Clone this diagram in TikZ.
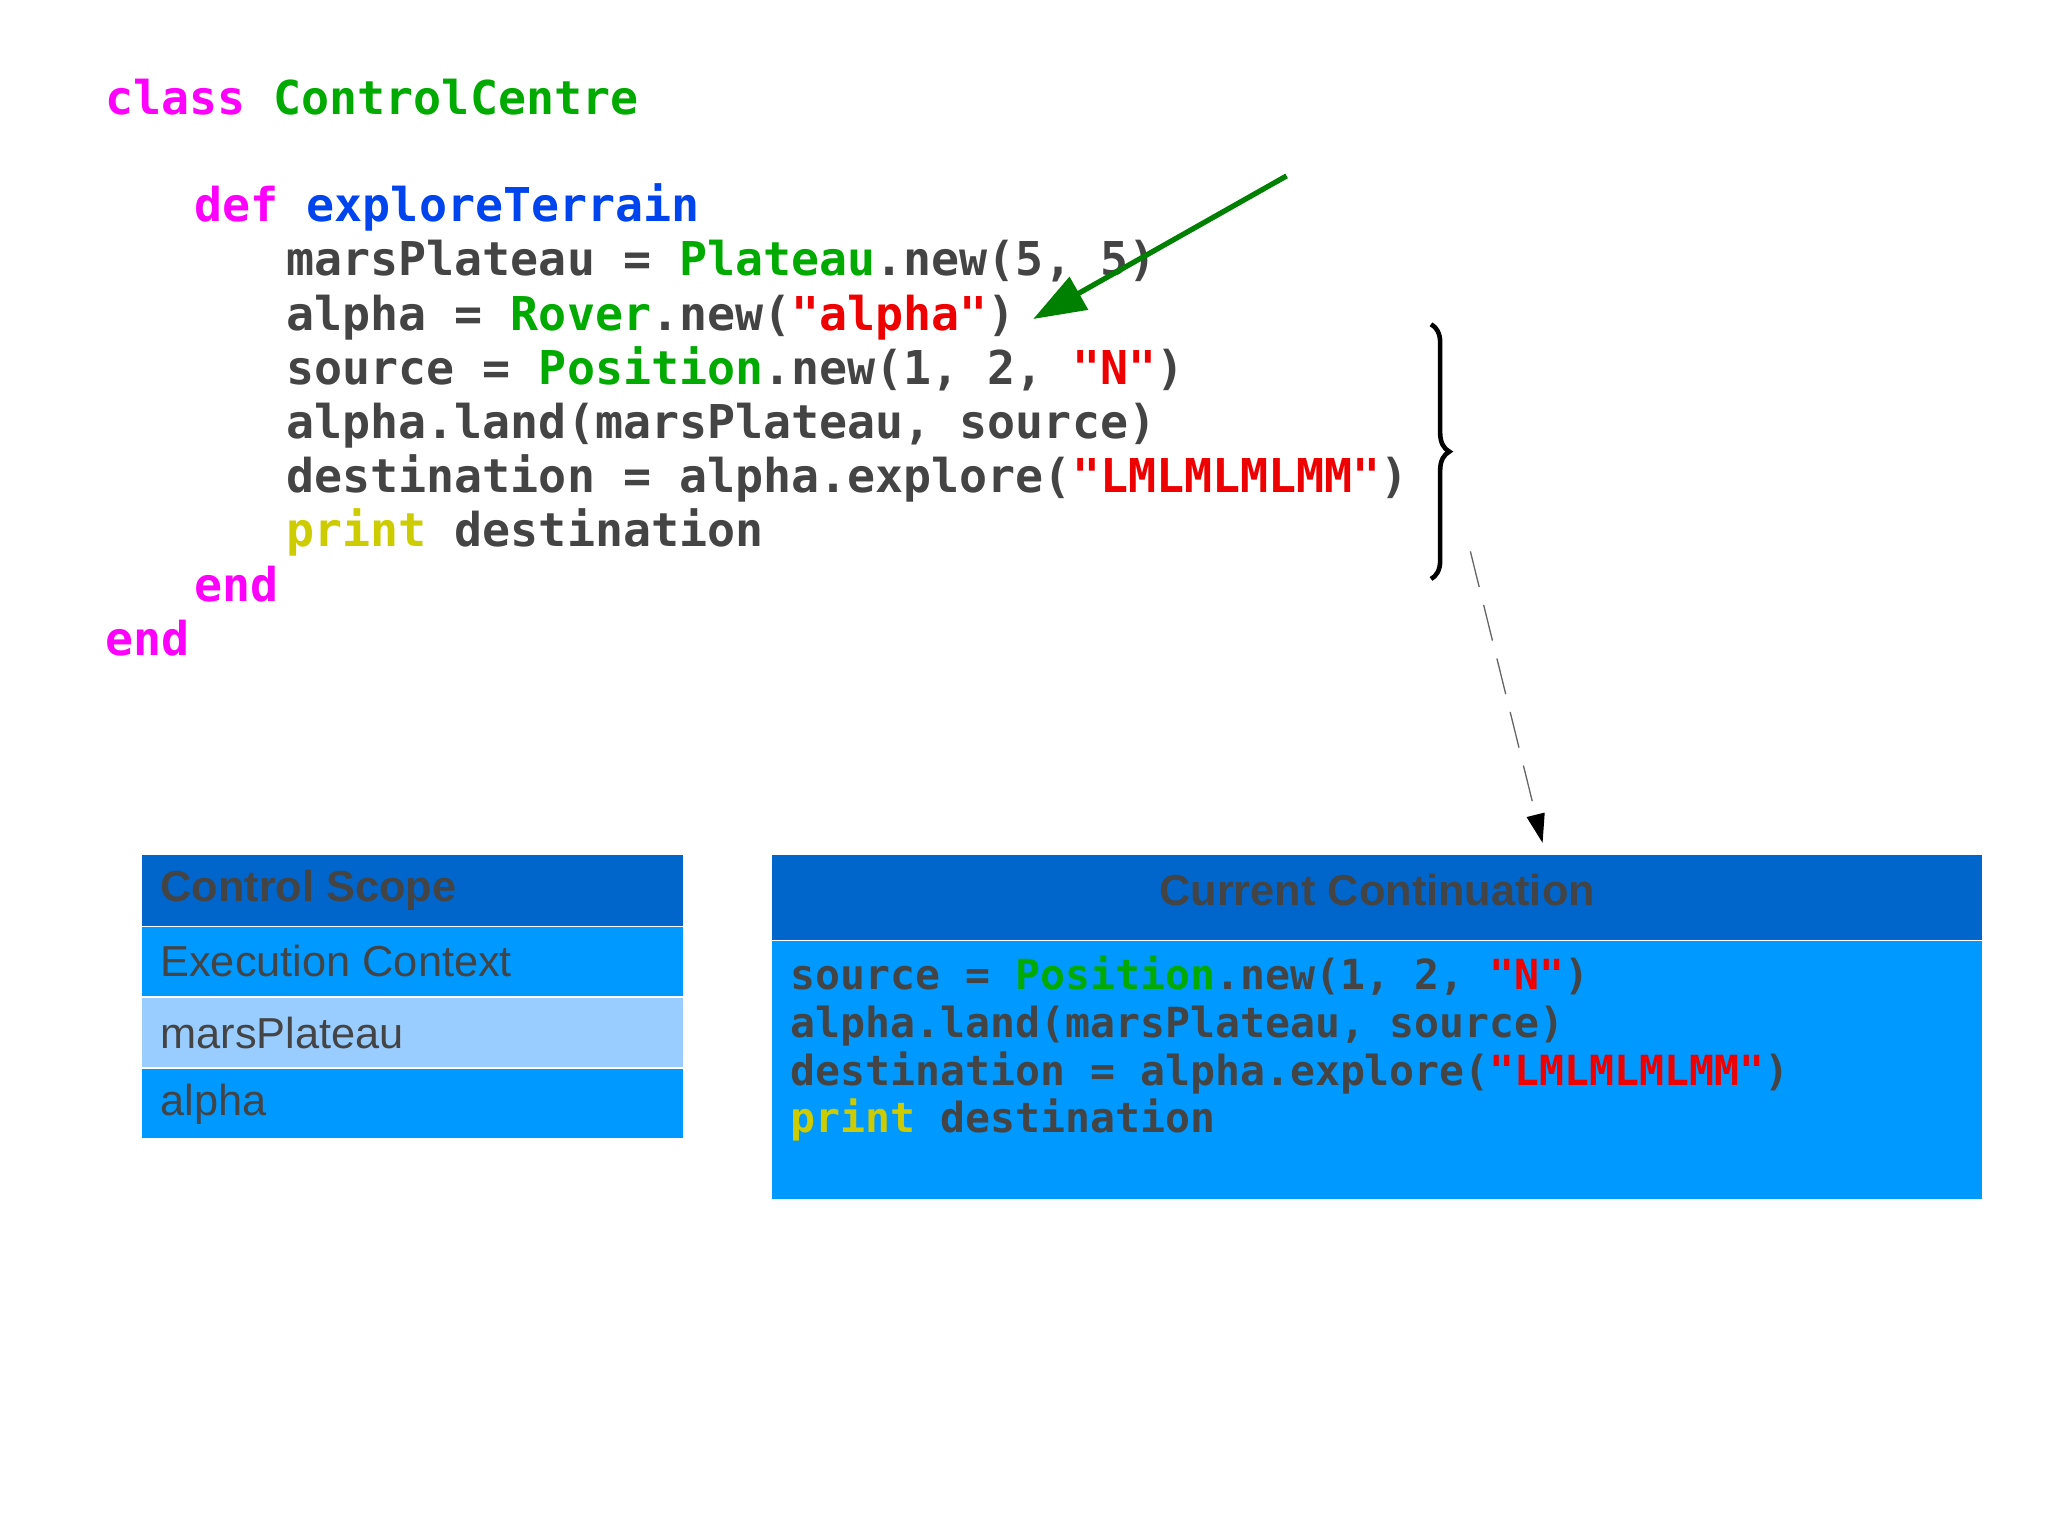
\documentclass[tikz,border=0pt]{standalone}
\usepackage{fontspec}
\setmainfont{Liberation Sans}
\newfontfamily\cmono{DejaVu Sans Mono}
\usetikzlibrary{arrows.meta,decorations.pathreplacing}
\definecolor{kw}{HTML}{FF00FF}
\definecolor{cls}{HTML}{00AA00}
\definecolor{meth}{HTML}{0044EE}
\definecolor{txt}{HTML}{444444}
\definecolor{str}{HTML}{EE0000}
\definecolor{prn}{HTML}{CCCC00}
\definecolor{hdr}{HTML}{0066CC}
\definecolor{bod}{HTML}{0099FF}
\definecolor{lite}{HTML}{99CCFF}
\newcommand{\cKw}[1]{\textcolor{kw}{#1}}
\newcommand{\cCl}[1]{\textcolor{cls}{#1}}
\newcommand{\cMe}[1]{\textcolor{meth}{#1}}
\newcommand{\cSt}[1]{\textcolor{str}{#1}}
\newcommand{\cPr}[1]{\textcolor{prn}{#1}}
\begin{document}
\begin{tikzpicture}[x=1pt,y=-1pt,
 code/.style={anchor=base west,inner sep=0pt,text=txt,font=\cmono\bfseries\fontsize{35.5}{40}\selectfont},
 bcode/.style={anchor=base west,inner sep=0pt,text=txt,font=\cmono\bfseries\fontsize{31.6}{36}\selectfont},
 lab/.style={anchor=west,inner sep=0pt,text=txt,font=\fontsize{33}{38}\selectfont}]
\useasboundingbox (0,0) rectangle (1560,1170);
\node[code] (l1) at (80,87) {\cKw{class} \cCl{ControlCentre}};
\node[code] (l2) at (148,169) {\cKw{def} \cMe{exploreTerrain}};
\node[code] (l3) at (218,210) {marsPlateau = \cCl{Plateau}.new(5, 5)};
\node[code] (l4) at (218,252) {alpha = \cCl{Rover}.new(\cSt{"alpha"})};
\node[code] (l5) at (218,293) {source = \cCl{Position}.new(1, 2, \cSt{"N"})};
\node[code] (l6) at (218,334) {alpha.land(marsPlateau, source)};
\node[code] (l7) at (218,375) {destination = alpha.explore(\cSt{"LMLMLMLMM"})};
\node[code] (l8) at (218,416) {\cPr{print} destination};
\node[code] (l9) at (148,458) {\cKw{end}};
\node[code] (l10) at (80,499) {\cKw{end}};
% left box
\fill[hdr] (108,651) rectangle (520,705);
\fill[bod] (108,706) rectangle (520,759);
\fill[lite] (108,760) rectangle (520,813);
\fill[bod] (108,814) rectangle (520,867);
\node[lab,font=\bfseries\fontsize{33}{38}\selectfont] (cs) at (122,678) {Control Scope};
\node[lab] (ec) at (122,732) {Execution Context};
\node[lab] (mp) at (122,787) {marsPlateau};
\node[lab] (al) at (122,841) {alpha};
% right box
\fill[hdr] (588,651) rectangle (1510,716);
\fill[bod] (588,717) rectangle (1510,913);
\node[lab,anchor=center,font=\bfseries\fontsize{33}{38}\selectfont] (cc) at (1049,678) {Current Continuation};
\node[bcode] (b1) at (602,754) {source = \cCl{Position}.new(1, 2, \cSt{"N"})};
\node[bcode] (b2) at (602,790) {alpha.land(marsPlateau, source)};
\node[bcode] (b3) at (602,827) {destination = alpha.explore(\cSt{"LMLMLMLMM"})};
\node[bcode] (b4) at (602,863) {\cPr{print} destination};
% green arrow
\coordinate (gs) at (980,134);
\coordinate (ge) at (787,243);
\draw[green!50!black,line width=4pt,-{Triangle[length=40pt,width=28pt]}] (gs) -- (ge);
% brace
\coordinate (bt) at (1090,247);
\coordinate (bb) at (1090,441);
\draw[line width=3.5pt,decorate,decoration={brace,amplitude=14pt}] (bt) -- (bb);
% dashed arrow
\coordinate (ds) at (1120,420);
\coordinate (de) at (1175,642);
\draw[black!60,line width=1pt,dash pattern=on 28pt off 14pt,-{Triangle[length=22pt,width=14pt,color=black]}] (ds) -- (de);
\end{tikzpicture}
\end{document}
